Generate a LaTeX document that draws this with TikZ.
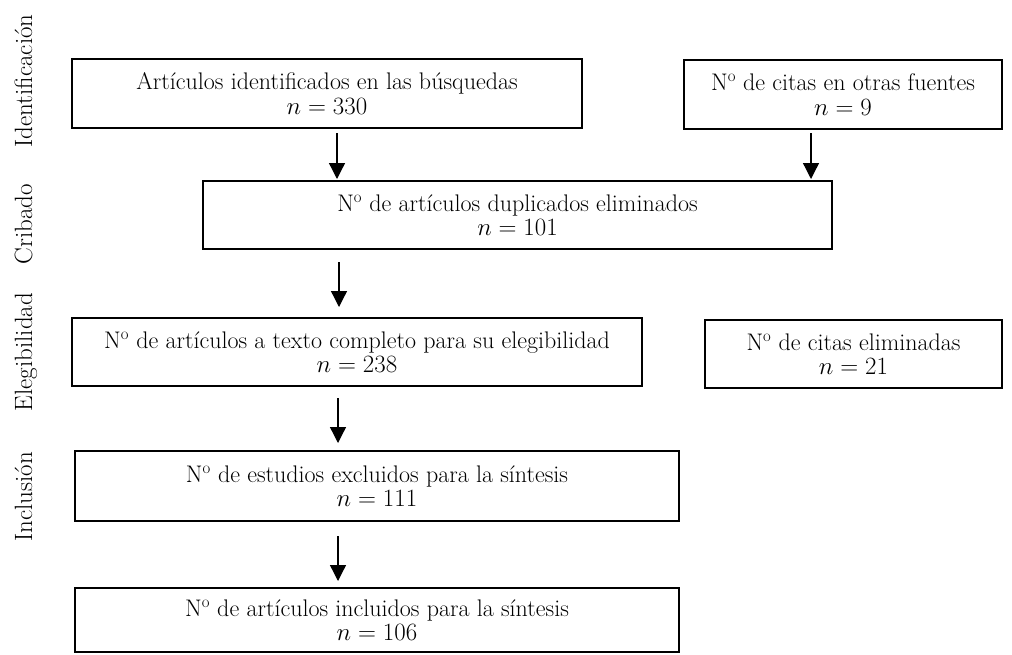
\documentclass[tikz,border=0pt]{standalone}
\usetikzlibrary{arrows.meta}
\begin{document}
\begin{tikzpicture}[x=1pt,y=-1pt,
  box/.style={draw,line width=1.8pt,align=center,inner sep=0pt,font=\fontsize{24}{24.5}\selectfont},
  arr/.style={line width=1.3pt,-{Triangle[width=16pt,length=16pt]}},
  phase/.style={rotate=90,anchor=base,font=\fontsize{25}{26}\selectfont}]
\useasboundingbox (0,0) rectangle (1012,654);
\node[box,minimum width=510pt,minimum height=69pt] (b1) at (327,93.5) {Artículos identificados en las búsquedas\\$n = 330$};
\node[box,minimum width=318pt,minimum height=69pt] (b2) at (843,94.5) {N\textsuperscript{o} de citas en otras fuentes\\$n = 9$};
\node[box,minimum width=629pt,minimum height=68pt] (b3) at (517.5,215) {N\textsuperscript{o} de artículos duplicados eliminados\\$n = 101$};
\node[box,minimum width=570pt,minimum height=68pt] (b4) at (357,352) {N\textsuperscript{o} de artículos a texto completo para su elegibilidad\\$n = 238$};
\node[box,minimum width=297pt,minimum height=68pt] (b5) at (853.5,354) {N\textsuperscript{o} de citas eliminadas\\$n = 21$};
\node[box,minimum width=604pt,minimum height=70pt] (b6) at (377,486) {N\textsuperscript{o} de estudios excluidos para la síntesis\\$n = 111$};
\node[box,minimum width=604pt,minimum height=64pt] (b7) at (377,620) {N\textsuperscript{o} de artículos incluidos para la síntesis\\$n = 106$};
\node[phase] (p1) at (32,81) {Identificación};
\node[phase] (p2) at (32,224) {Cribado};
\node[phase] (p3) at (32,352) {Elegibilidad};
\node[phase] (p4) at (32,497) {Inclusión};
\coordinate (a1s) at (337,133); \coordinate (a1e) at (337,179);
\coordinate (a2s) at (811,133); \coordinate (a2e) at (811,179);
\coordinate (a3s) at (339,262); \coordinate (a3e) at (339,307);
\coordinate (a4s) at (338,398); \coordinate (a4e) at (338,443);
\coordinate (a5s) at (338,536); \coordinate (a5e) at (338,581);
\draw[arr] (a1s) -- (a1e);
\draw[arr] (a2s) -- (a2e);
\draw[arr] (a3s) -- (a3e);
\draw[arr] (a4s) -- (a4e);
\draw[arr] (a5s) -- (a5e);
\end{tikzpicture}
\end{document}
